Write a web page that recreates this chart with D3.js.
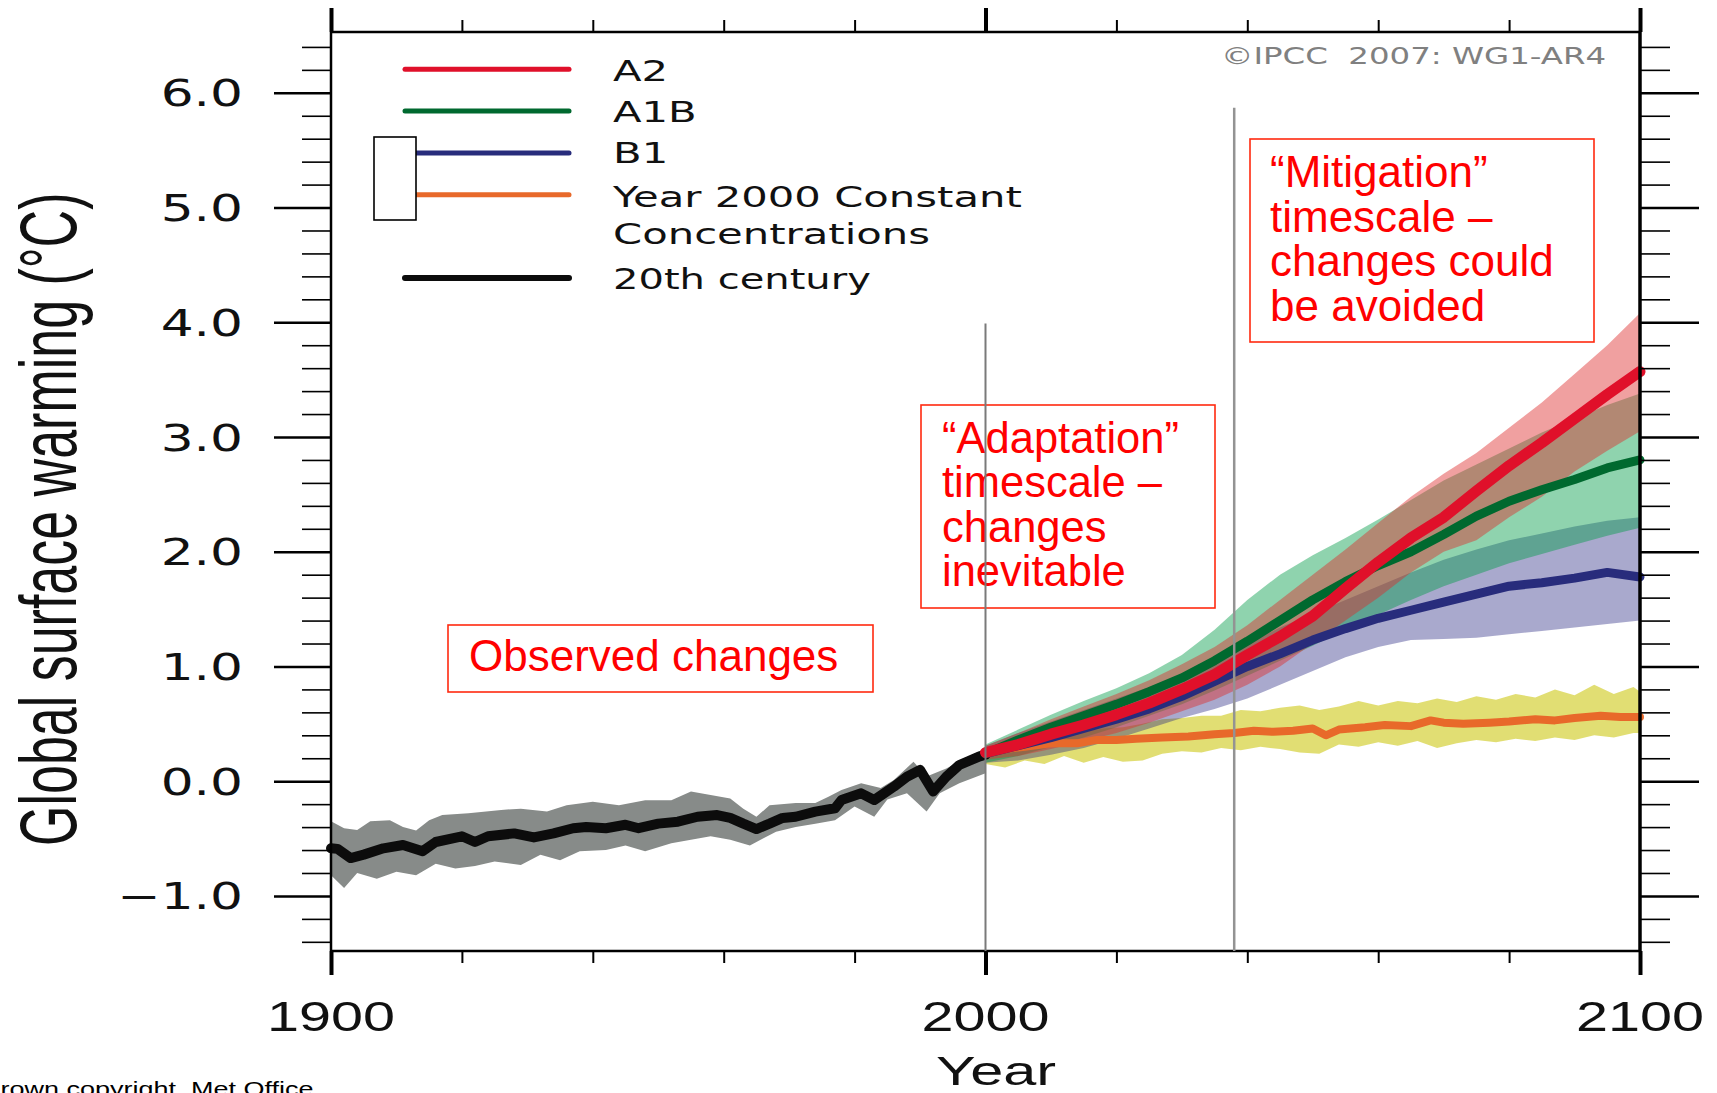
<!DOCTYPE html>
<html><head><meta charset="utf-8">
<script src="https://cdn.jsdelivr.net/npm/d3@7"></script>
<style>html,body{margin:0;padding:0;background:#fff;overflow:hidden}</style>
</head><body>
<svg id="chart" width="1717" height="1093" xmlns="http://www.w3.org/2000/svg"></svg>
<script>
// ---------------- DATA ----------------
// 20th century multi-model mean and its band
const obsYears = [1900,1901,1903,1905,1908,1911,1914,1916,1920,1922,1924,1928,1931,1934,1937,1939,1942,1945,1947,1950,1953,1956,1959,1961,1963,1965,1967,1969,1971,1974,1977,1978,1981,1983,1986,1988,1990,1992,1994,1996,1999,2000];
const obsMean  = [-0.585,-0.59,-0.67,-0.64,-0.585,-0.556,-0.61,-0.53,-0.48,-0.53,-0.48,-0.455,-0.49,-0.455,-0.41,-0.40,-0.41,-0.38,-0.41,-0.37,-0.353,-0.31,-0.295,-0.32,-0.37,-0.417,-0.37,-0.32,-0.31,-0.265,-0.236,-0.164,-0.106,-0.164,-0.048,0.039,0.098,-0.09,0.039,0.141,0.214,0.23];
const obsUpperYears = [1900,1902,1904,1906,1909,1911,1913,1915,1917,1921,1926,1929,1933,1936,1940,1944,1948,1952,1955,1958,1961,1963,1965,1967,1971,1974,1976,1978,1981,1984,1986,1989,1991,1994,1997,2000];
const obsUpper = [-0.35,-0.41,-0.425,-0.35,-0.34,-0.40,-0.43,-0.34,-0.295,-0.28,-0.25,-0.24,-0.265,-0.21,-0.18,-0.21,-0.165,-0.165,-0.09,-0.12,-0.15,-0.24,-0.31,-0.21,-0.19,-0.19,-0.135,-0.076,-0.018,-0.06,0.01,0.17,0.04,0.11,0.20,0.29];
const obsLowerYears = [1900,1902,1904,1907,1910,1913,1916,1919,1922,1925,1929,1932,1935,1938,1942,1945,1948,1952,1955,1958,1961,1964,1966,1968,1971,1974,1977,1980,1983,1985,1988,1991,1993,1996,2000];
const obsLower = [-0.82,-0.93,-0.80,-0.85,-0.79,-0.82,-0.72,-0.76,-0.74,-0.70,-0.73,-0.64,-0.69,-0.61,-0.60,-0.56,-0.61,-0.54,-0.51,-0.48,-0.51,-0.56,-0.50,-0.44,-0.40,-0.37,-0.34,-0.22,-0.31,-0.16,-0.105,-0.265,-0.105,-0.018,0.07];

// Scenario projections (5-year readings)
const projYears = [2000,2005,2010,2015,2020,2025,2030,2035,2040,2045,2050,2055,2060,2065,2070,2075,2080,2085,2090,2095,2100];
const a2Mean  = [0.25,0.32,0.41,0.49,0.58,0.68,0.80,0.93,1.10,1.26,1.44,1.68,1.91,2.12,2.30,2.53,2.75,2.95,3.16,3.37,3.57];
const a2Upper = [0.31,0.42,0.54,0.65,0.76,0.88,1.02,1.17,1.36,1.58,1.80,2.02,2.25,2.48,2.68,2.86,3.08,3.30,3.55,3.80,4.08];
const a2Lower = [0.19,0.22,0.28,0.35,0.42,0.51,0.61,0.71,0.84,1.00,1.20,1.40,1.60,1.82,2.00,2.10,2.30,2.48,2.70,2.88,3.05];
const a1bMean  = [0.24,0.36,0.47,0.57,0.67,0.78,0.90,1.05,1.22,1.40,1.58,1.74,1.88,2.00,2.15,2.31,2.44,2.54,2.63,2.73,2.80];
const a1bUpper = [0.32,0.45,0.58,0.70,0.81,0.94,1.10,1.32,1.58,1.80,1.97,2.12,2.28,2.45,2.62,2.76,2.90,3.04,3.16,3.28,3.38];
const a1bLower = [0.16,0.22,0.30,0.38,0.47,0.57,0.67,0.79,0.92,1.05,1.18,1.32,1.45,1.58,1.70,1.80,1.90,1.98,2.06,2.14,2.21];
const b1Mean  = [0.24,0.31,0.38,0.46,0.54,0.63,0.74,0.87,1.00,1.11,1.23,1.33,1.42,1.49,1.56,1.63,1.70,1.73,1.77,1.82,1.78];
const b1Upper = [0.31,0.42,0.52,0.62,0.72,0.82,0.93,1.06,1.20,1.34,1.46,1.58,1.70,1.82,1.93,2.02,2.10,2.16,2.22,2.27,2.30];
const b1Lower = [0.16,0.18,0.23,0.29,0.37,0.46,0.55,0.63,0.72,0.84,0.96,1.08,1.17,1.23,1.24,1.25,1.28,1.31,1.34,1.37,1.40];

// Year 2000 constant concentrations
const constYears = [2000,2003,2006,2010,2014,2017,2020,2023,2027,2031,2035,2038,2041,2044,2047,2050,2052,2054,2058,2061,2065,2068,2070,2073,2077,2080,2084,2087,2090,2094,2097,2100];
const constMean  = [0.24,0.28,0.30,0.33,0.33,0.36,0.36,0.37,0.38,0.39,0.41,0.42,0.44,0.43,0.44,0.46,0.40,0.45,0.47,0.49,0.48,0.53,0.51,0.50,0.51,0.52,0.54,0.53,0.55,0.57,0.56,0.56];
const constBandYears = [2000,2003,2006,2009,2012,2015,2018,2021,2024,2027,2030,2033,2036,2039,2042,2045,2048,2051,2054,2057,2060,2063,2066,2069,2072,2075,2078,2081,2084,2087,2090,2093,2096,2099,2100];
const constUpper = [0.28,0.32,0.36,0.34,0.41,0.43,0.46,0.47,0.50,0.54,0.55,0.57,0.57,0.62,0.61,0.64,0.66,0.62,0.65,0.70,0.66,0.70,0.68,0.72,0.69,0.74,0.71,0.76,0.73,0.80,0.75,0.84,0.76,0.82,0.78];
const constLower = [0.15,0.12,0.18,0.15,0.22,0.16,0.21,0.17,0.18,0.24,0.26,0.25,0.29,0.27,0.30,0.28,0.25,0.24,0.32,0.30,0.34,0.31,0.35,0.29,0.33,0.36,0.34,0.37,0.35,0.38,0.36,0.40,0.38,0.42,0.42];

// Axis ticks / labels
const yMajorTicks = [-1,0,1,2,3,4,5,6];
const yTickLabels = ["\u22121.0","0.0","1.0","2.0","3.0","4.0","5.0","6.0"];
const xMajorTicks = [1900,2000,2100];
const xTickLabels = ["1900","2000","2100"];
const xMinorTicks = [1920,1940,1960,1980,2020,2040,2060,2080];

// Legend
const legendLabels = ["A2","A1B","B1","Year 2000 Constant","20th century"];
const legendColors = ["#e0102a","#00692f","#282c7c","#e8692a","#0c0c0c"];

// Timescale markers
const adaptationYear = 2000, adaptationTop = 3.99;
const mitigationYear = 2038, mitigationTop = 5.87;

// ---------------- CHART ----------------
const svg = d3.select("#chart");
const x = d3.scaleLinear().domain([1900,2100]).range([331,1640]);
const y = d3.scaleLinear().domain([-1.48,6.53]).range([951,32]);

const yMinorTicks = d3.range(-14, 65, 2).map(v => v/10).filter(v => Math.abs(v - Math.round(v)) > 1e-6);

const pairs = (xs, vs) => xs.map((yr, i) => [yr, vs[i]]);
const lineGen = d3.line().x(d => x(d[0])).y(d => y(d[1]));
function bandPath(upYears, up, loYears, lo) {
  return lineGen(pairs(upYears, up).concat(pairs(loYears, lo).reverse())) + "Z";
}

const gData = svg.append("g");
// bands
gData.append("path").attr("d", bandPath(constBandYears, constUpper, constBandYears, constLower))
  .attr("fill", "rgb(200,195,0)").attr("fill-opacity", 0.55);
gData.append("path").attr("d", bandPath(projYears, b1Upper, projYears, b1Lower))
  .attr("fill", "rgb(40,40,130)").attr("fill-opacity", 0.4);
gData.append("path").attr("d", bandPath(projYears, a1bUpper, projYears, a1bLower))
  .attr("fill", "rgb(0,155,71)").attr("fill-opacity", 0.44);
gData.append("path").attr("d", bandPath(projYears, a2Upper, projYears, a2Lower))
  .attr("fill", "rgb(222,44,44)").attr("fill-opacity", 0.45);
gData.append("path").attr("d", bandPath(obsUpperYears, obsUpper, obsLowerYears, obsLower))
  .attr("fill", "#878b89");

// lines
const series = [
  {xs: obsYears, vs: obsMean, c: "#0c0c0c", w: 10},
  {xs: constYears, vs: constMean, c: "#e8692a", w: 8},
  {xs: projYears, vs: b1Mean, c: "#282c7c", w: 9},
  {xs: projYears, vs: a1bMean, c: "#00692f", w: 9},
  {xs: projYears, vs: a2Mean, c: "#e0102a", w: 11}
];
series.forEach(s => {
  gData.append("path").attr("d", lineGen(pairs(s.xs, s.vs)))
    .attr("fill", "none").attr("stroke", s.c).attr("stroke-width", s.w)
    .attr("stroke-linejoin", "round").attr("stroke-linecap", "round");
});

// ---------------- AXES ----------------
function styleAxis(g, w) {
  g.select(".domain").remove();
  g.selectAll("line").attr("stroke", "#000").attr("stroke-width", w);
}
svg.append("g").attr("transform", "translate(331,0)")
  .call(d3.axisLeft(y).tickValues(yMajorTicks).tickSize(57).tickFormat(""))
  .call(g => styleAxis(g, 2.5));
svg.append("g").attr("transform", "translate(331,0)")
  .call(d3.axisLeft(y).tickValues(yMinorTicks).tickSize(29).tickFormat(""))
  .call(g => styleAxis(g, 1.6));
svg.append("g").attr("transform", "translate(1640,0)")
  .call(d3.axisRight(y).tickValues(yMajorTicks).tickSize(59).tickFormat(""))
  .call(g => styleAxis(g, 2.5));
svg.append("g").attr("transform", "translate(1640,0)")
  .call(d3.axisRight(y).tickValues(yMinorTicks).tickSize(30).tickFormat(""))
  .call(g => styleAxis(g, 1.6));
svg.append("g").attr("transform", "translate(0,32)")
  .call(d3.axisTop(x).tickValues(xMajorTicks).tickSize(24).tickFormat(""))
  .call(g => styleAxis(g, 4));
svg.append("g").attr("transform", "translate(0,32)")
  .call(d3.axisTop(x).tickValues(xMinorTicks).tickSize(12).tickFormat(""))
  .call(g => styleAxis(g, 2));
svg.append("g").attr("transform", "translate(0,951)")
  .call(d3.axisBottom(x).tickValues(xMajorTicks).tickSize(24).tickFormat(""))
  .call(g => styleAxis(g, 4));
svg.append("g").attr("transform", "translate(0,951)")
  .call(d3.axisBottom(x).tickValues(xMinorTicks).tickSize(12).tickFormat(""))
  .call(g => styleAxis(g, 2));

// frame
const [x0, x1] = x.range(), yb = 951, yt = 32;
svg.append("line").attr("x1", x0).attr("x2", x1).attr("y1", yt).attr("y2", yt).attr("stroke", "#000").attr("stroke-width", 2.5);
svg.append("line").attr("x1", x0).attr("x2", x1).attr("y1", yb).attr("y2", yb).attr("stroke", "#000").attr("stroke-width", 2.5);
svg.append("line").attr("x1", x0).attr("x2", x0).attr("y1", yt).attr("y2", yb).attr("stroke", "#000").attr("stroke-width", 2.5);
svg.append("line").attr("x1", x1).attr("x2", x1).attr("y1", yt).attr("y2", yb).attr("stroke", "#000").attr("stroke-width", 3.5);

// stretched text helper
function sText(parent, tx, ty, str, o) {
  return parent.append("text")
    .attr("transform", `translate(${tx},${ty}) ${o.rot ? "rotate(" + o.rot + ")" : ""} scale(${o.sx || 1},${o.sy || 1})`)
    .attr("text-anchor", o.anchor || "start")
    .attr("font-family", o.family)
    .attr("font-size", o.size)
    .attr("fill", o.fill || "#111")
    .style("white-space", "pre")
    .text(str);
}

// y tick labels
yMajorTicks.forEach((v, i) => sText(svg, 243, y(v) + 13.5, yTickLabels[i],
  {family: "DejaVu Sans", size: 37, sx: 1.4, anchor: "end"}));
// x tick labels
xMajorTicks.forEach((v, i) => sText(svg, x(v), 1031, xTickLabels[i],
  {family: "Liberation Sans, Arial", size: 42, sx: 1.37, anchor: "middle"}));
// axis titles
sText(svg, 996, 1085, "Year", {family: "Liberation Sans, Arial", size: 41, sx: 1.45, anchor: "middle"});
sText(svg, 76, 846, "Global surface warming (\u00B0C)", {family: "Liberation Sans, Arial", size: 52, rot: -90, sy: 1.53, anchor: "start"});

// copyright
sText(svg, 1221, 64, "\u00A9IPCC  2007: WG1-AR4", {family: "DejaVu Sans", size: 23.5, sx: 1.38, fill: "#808080"});
sText(svg, -19, 1096, "Crown copyright, Met Office", {family: "Liberation Sans, Arial", size: 20, sx: 1.35, fill: "#000"});

// ---------------- LEGEND ----------------
const legLineY = [69.3, 111, 153, 194.7, 278];
const legTextY = [80.5, 122, 163, 206.5, 289];
const gLeg = svg.append("g");
legendLabels.forEach((lab, i) => {
  gLeg.append("line").attr("x1", 405).attr("x2", 569).attr("y1", legLineY[i]).attr("y2", legLineY[i])
    .attr("stroke", legendColors[i]).attr("stroke-width", i === 4 ? 6 : 5).attr("stroke-linecap", "round");
  sText(gLeg, 613, legTextY[i], lab, {family: "DejaVu Sans", size: 29, sx: i === 4 ? 1.38 : 1.44});
});
sText(gLeg, 613, 244, "Concentrations", {family: "DejaVu Sans", size: 29, sx: 1.44});
gLeg.append("rect").attr("x", 374).attr("y", 137).attr("width", 42).attr("height", 83)
  .attr("fill", "#fff").attr("stroke", "#000").attr("stroke-width", 1.6);

// ---------------- ANNOTATIONS ----------------
const red = "#ff0000";
const gAnn = svg.append("g");
function annBox(bx, by, bw, bh, lines, tx, baselines, size) {
  gAnn.append("rect").attr("x", bx).attr("y", by).attr("width", bw).attr("height", bh)
    .attr("fill", "none").attr("stroke", "#ff2a10").attr("stroke-width", 1.6);
  lines.forEach((t, i) => gAnn.append("text").attr("x", tx).attr("y", baselines[i])
    .attr("font-family", "Liberation Sans, Arial").attr("font-size", size).attr("fill", red).text(t));
}
annBox(448, 625, 425, 67, ["Observed changes"], 469, [671], 44);
annBox(921, 405, 294, 203, ["\u201CAdaptation\u201D", "timescale \u2013", "changes", "inevitable"], 942, [452.5, 497, 541.5, 586], 43.5);
annBox(1250, 139, 344, 203, ["\u201CMitigation\u201D", "timescale \u2013", "changes could", "be avoided"], 1270, [187, 231.5, 276, 321], 44);

// timescale marker lines
svg.append("line").attr("x1", x(adaptationYear)).attr("x2", x(adaptationYear))
  .attr("y1", y(adaptationTop)).attr("y2", yb).attr("stroke", "#7a7a7a").attr("stroke-width", 2);
svg.append("line").attr("x1", x(mitigationYear)).attr("x2", x(mitigationYear))
  .attr("y1", y(mitigationTop)).attr("y2", yb).attr("stroke", "#939393").attr("stroke-width", 2.5);
</script>
</body></html>
